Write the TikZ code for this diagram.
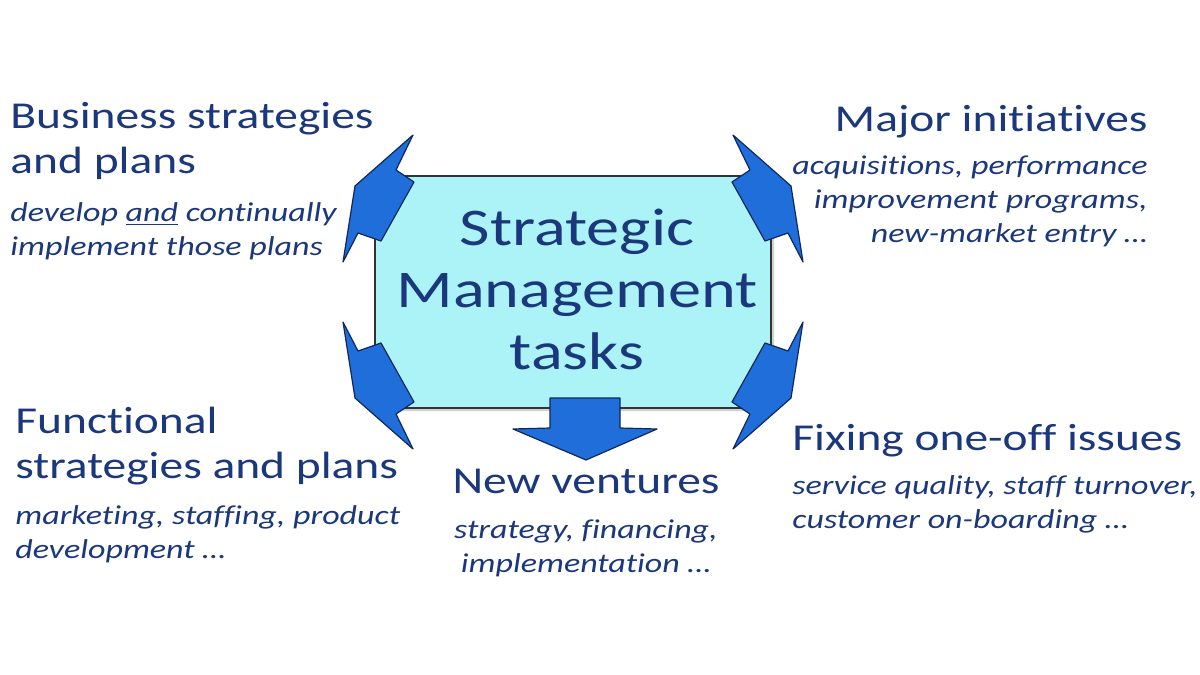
\documentclass[tikz,border=0pt]{standalone}
\usepackage{fontspec}
\setmainfont{Carlito}[FakeStretch=1.25, Ligatures=NoCommon]
\usetikzlibrary{positioning,shadows}
\definecolor{txtblue}{RGB}{28,56,124}
\definecolor{boxcyan}{RGB}{172,243,248}
\definecolor{arrowblue}{RGB}{32,110,218}
\definecolor{arrowedge}{RGB}{14,40,92}
\tikzset{
    headtext/.style={font=\fontsize{19}{22.5}\selectfont, text=txtblue, inner sep=0pt, align=left},
    subtext/.style={font=\fontsize{13.6}{17}\selectfont\itshape, text=txtblue, inner sep=0pt, align=left},
    taskbox/.style={rectangle, rounded corners=2pt, draw=black!80, line width=0.9pt, fill=boxcyan, minimum width=198pt, minimum height=116pt, drop shadow={shadow xshift=1.5pt, shadow yshift=-1.5pt, opacity=0.35}},
    tasktext/.style={align=center, text=txtblue, inner sep=0pt, font=\fontsize{26.5}{31}\selectfont},
    blockarrow/.style={fill=arrowblue, draw=arrowedge, line width=0.6pt, line join=round},
    cornerarrow/.pic={
        \filldraw[blockarrow] (-160,-157) -- (-177,-122) -- (-159,-110) -- (-192,-51) -- (-215,-59) -- (-230,-30) -- (-218,-106) -- cycle;
    },
}

\begin{document}
\begin{tikzpicture}[x=0.5pt, y=-0.5pt]
\fill[white] (0,0) rectangle (1200,675);
\useasboundingbox (0,0) rectangle (1200,675);

% Centre box
\node[taskbox] (box) at (573,292) {};
\node[tasktext, anchor=base] (tasks) at (577,369) {Strategic\\Management\\tasks};

% Block arrows
\pic at (box.center) {cornerarrow};
\pic[xscale=-1] at (box.center) {cornerarrow};
\pic[yscale=-1] at (box.center) {cornerarrow};
\pic[xscale=-1, yscale=-1] at (box.center) {cornerarrow};
\filldraw[blockarrow] (550,398) -- (620,398) -- (620,428) -- (657,429) -- (586,460) -- (513,429) -- (550,428) -- cycle;

% Task groups
\node[headtext, anchor=base west] (bizhead) at (10,173) {Business strategies\\and plans};
\node[subtext, anchor=base west] (bizsub) at (10,255) {develop \underline{and} continually\\implement those plans};

\node[headtext, anchor=base east, align=right] (majhead) at (1148,131) {Major initiatives};
\node[subtext, anchor=base east, align=right] (majsub) at (1148,242) {acquisitions, performance\\improvement programs,\\new-market entry …};

\node[headtext, anchor=base west] (funchead) at (15,478) {Functional\\strategies and plans};
\node[subtext, anchor=base west] (funcsub) at (15,558) {marketing, staffing, product\\development …};

\node[headtext, anchor=base] (newhead) at (586,493) {New ventures};
\node[subtext, anchor=base, align=center] (newsub) at (586,572) {strategy, financing,\\implementation …};

\node[headtext, anchor=base west] (fixhead) at (792,450) {Fixing one-off issues};
\node[subtext, anchor=base west] (fixsub) at (792,528) {service quality, staff turnover,\\customer on-boarding …};
\end{tikzpicture}
\end{document}
